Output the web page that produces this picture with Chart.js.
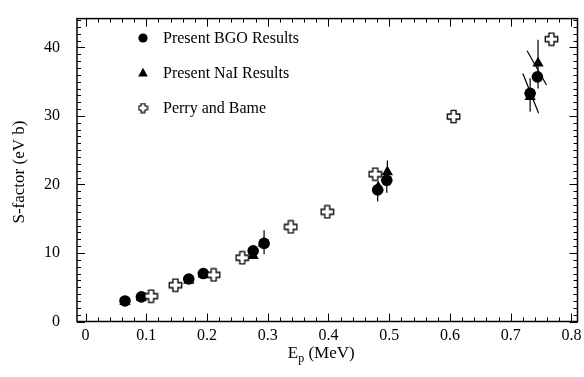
<!DOCTYPE html>
<html>
<head>
<meta charset="utf-8">
<title>S-factor</title>
<script src="https://cdn.jsdelivr.net/npm/chart.js@4.4.1/dist/chart.umd.min.js"></script>
<style>
  html, body { margin: 0; padding: 0; background: #fff; }
  #sfactor { display: block; }
</style>
</head>
<body>
<canvas id="sfactor" width="584" height="377"></canvas>
<script>
// S-factor (eV b) against proton energy E_p (MeV)

// Present BGO results
const bgoE = [0.065, 0.092, 0.170, 0.194, 0.276, 0.294, 0.481, 0.496, 0.732, 0.744];
const bgoS = [3.0, 3.6, 6.2, 7.0, 10.3, 11.4, 19.2, 20.6, 33.3, 35.7];
const bgoLo = [null, null, null, null, null, 9.8, 17.5, 18.8, 30.6, null];
const bgoHi = [null, null, null, null, null, 13.3, 20.4, 22.4, 35.5, null];

// Present NaI results
const naiE = [0.065, 0.092, 0.170, 0.194, 0.276, 0.293, 0.482, 0.497, 0.732, 0.745];
const naiS = [2.9, 3.5, 6.0, 6.9, 9.6, 11.4, 19.6, 21.8, 32.8, 37.7];
const naiLo = [null, null, null, null, null, null, null, 20.0, null, 34.0];
const naiHi = [null, null, null, null, null, null, null, 23.5, null, 41.1];

// slanted bars on the two highest-energy points (end points in MeV, eV b)
const slantE0 = [0.720, 0.727];
const slantS0 = [36.2, 39.5];
const slantE1 = [0.746, 0.759];
const slantS1 = [30.4, 34.5];

// Perry and Bame
const perryE = [0.108, 0.148, 0.211, 0.258, 0.338, 0.398, 0.477, 0.606, 0.767];
const perryS = [3.7, 5.3, 6.8, 9.3, 13.8, 16.0, 21.5, 29.9, 41.2];

// axes
const xTicks = [0, 0.1, 0.2, 0.3, 0.4, 0.5, 0.6, 0.7, 0.8];
const xTickLabels = ['0', '0.1', '0.2', '0.3', '0.4', '0.5', '0.6', '0.7', '0.8'];
const yTicks = [0, 10, 20, 30, 40];
const yTickLabels = ['0', '10', '20', '30', '40'];
const seriesNames = ['Present BGO Results', 'Present NaI Results', 'Perry and Bame'];

const SERIF = '"Liberation Serif", "DejaVu Serif", serif';
const X_MINOR = 0.02;
const Y_MINOR = 1;

function toPoints(xs, ys) {
	return xs.map((x, i) => ({x: x, y: ys[i]}));
}

// open plus sign, white inside, black edge
function plusMarker(size, arm, lw) {
	const c = document.createElement('canvas');
	c.width = size;
	c.height = size;
	const g = c.getContext('2d');
	const h = size / 2, a = arm / 2, e = h - lw;
	g.beginPath();
	g.moveTo(h - a, h - e);
	g.lineTo(h + a, h - e);
	g.lineTo(h + a, h - a);
	g.lineTo(h + e, h - a);
	g.lineTo(h + e, h + a);
	g.lineTo(h + a, h + a);
	g.lineTo(h + a, h + e);
	g.lineTo(h - a, h + e);
	g.lineTo(h - a, h + a);
	g.lineTo(h - e, h + a);
	g.lineTo(h - e, h - a);
	g.lineTo(h - a, h - a);
	g.closePath();
	g.fillStyle = '#fff';
	g.fill();
	g.lineWidth = lw;
	g.strokeStyle = '#000';
	g.stroke();
	return c;
}

const plusBig = plusMarker(15, 5, 1.3);
const plusSmall = plusMarker(11, 4, 1.2);

const framePlugin = {
	id: 'frame',
	beforeDatasetsDraw(chart) {
		const ctx = chart.ctx;
		const xs = chart.scales.x, ys = chart.scales.y;
		ctx.save();
		ctx.strokeStyle = '#000';
		ctx.lineWidth = 1.2;
		const vbar = (es, lo, hi) => {
			es.forEach((e, i) => {
				if (lo[i] == null) {return ;}
				const px = xs.getPixelForValue(e);
				ctx.beginPath();
				ctx.moveTo(px, ys.getPixelForValue(lo[i]));
				ctx.lineTo(px, ys.getPixelForValue(hi[i]));
				ctx.stroke();
			});
		};
		vbar(bgoE, bgoLo, bgoHi);
		vbar(naiE, naiLo, naiHi);
		slantE0.forEach((e, i) => {
			ctx.beginPath();
			ctx.moveTo(xs.getPixelForValue(e), ys.getPixelForValue(slantS0[i]));
			ctx.lineTo(xs.getPixelForValue(slantE1[i]), ys.getPixelForValue(slantS1[i]));
			ctx.stroke();
		});
		ctx.restore();
	},
	afterDraw(chart) {
		const ctx = chart.ctx;
		const a = chart.chartArea;
		const xs = chart.scales.x, ys = chart.scales.y;
		ctx.save();
		ctx.strokeStyle = '#000';

		// inward ticks on all four sides
		ctx.lineWidth = 1;
		const xtick = (v, len) => {
			const px = Math.round(xs.getPixelForValue(v)) + 0.5;
			ctx.beginPath();
			ctx.moveTo(px, a.bottom); ctx.lineTo(px, a.bottom - len);
			ctx.moveTo(px, a.top); ctx.lineTo(px, a.top + len);
			ctx.stroke();
		};
		const ytick = (v, len) => {
			const py = Math.round(ys.getPixelForValue(v)) + 0.5;
			ctx.beginPath();
			ctx.moveTo(a.left, py); ctx.lineTo(a.left + len, py);
			ctx.moveTo(a.right, py); ctx.lineTo(a.right - len, py);
			ctx.stroke();
		};
		for (let v = 0; v <= xs.max + 1e-9; v += X_MINOR) {xtick(v, 4);}
		for (let v = 0; v <= ys.max + 1e-9; v += Y_MINOR) {ytick(v, 4);}
		xTicks.forEach(v => xtick(v, 8));
		yTicks.forEach(v => ytick(v, 8));

		ctx.lineWidth = 1.5;
		ctx.strokeRect(a.left, a.top, a.right - a.left, a.bottom - a.top);

		// axis titles
		ctx.fillStyle = '#000';
		ctx.font = '17px ' + SERIF;
		ctx.textBaseline = 'alphabetic';
		const cx = (a.left + a.right) / 2;
		const w1 = ctx.measureText('E').width;
		const w3 = ctx.measureText(' (MeV)').width;
		ctx.font = '12px ' + SERIF;
		const w2 = ctx.measureText('p').width;
		let tx = cx - (w1 + w2 + w3) / 2 - 6;
		const base = 358;
		ctx.font = '17px ' + SERIF;
		ctx.textAlign = 'left';
		ctx.fillText('E', tx, base);
		ctx.font = '12px ' + SERIF;
		ctx.fillText('p', tx + w1, base + 4);
		ctx.font = '17px ' + SERIF;
		ctx.fillText(' (MeV)', tx + w1 + w2, base);

		ctx.save();
		ctx.translate(24, (a.top + a.bottom) / 2 + 2);
		ctx.rotate(-Math.PI / 2);
		ctx.textAlign = 'center';
		ctx.fillText('S-factor (eV b)', 0, 0);
		ctx.restore();

		// legend
		const lx = 143, ly = [38, 73, 108];
		ctx.font = '16px ' + SERIF;
		ctx.textAlign = 'left';
		ctx.textBaseline = 'middle';
		ctx.beginPath();
		ctx.arc(lx, ly[0], 4.6, 0, Math.PI * 2);
		ctx.fill();
		ctx.beginPath();
		ctx.moveTo(lx, ly[1] - 5.2);
		ctx.lineTo(lx + 4.8, ly[1] + 3.4);
		ctx.lineTo(lx - 4.8, ly[1] + 3.4);
		ctx.closePath();
		ctx.fill();
		ctx.drawImage(plusSmall, lx - plusSmall.width / 2, ly[2] - plusSmall.height / 2);
		seriesNames.forEach((s, i) => ctx.fillText(s, 163, ly[i] + 1));
		ctx.restore();
	}
};

new Chart(document.getElementById('sfactor'), {
	type: 'scatter',
	data: {
		datasets: [{
			label: seriesNames[2],
			data: toPoints(perryE, perryS),
			pointStyle: plusBig,
			order: 0
		}, {
			label: seriesNames[0],
			data: toPoints(bgoE, bgoS),
			pointStyle: 'circle',
			pointRadius: 5.8,
			backgroundColor: '#000',
			borderColor: '#000',
			borderWidth: 0,
			order: 1
		}, {
			label: seriesNames[1],
			data: toPoints(naiE, naiS),
			pointStyle: 'triangle',
			pointRadius: 6.5,
			backgroundColor: '#000',
			borderColor: '#000',
			borderWidth: 0,
			order: 2
		}]
	},
	options: {
		responsive: false,
		animation: false,
		devicePixelRatio: 1,
		layout: {padding: {top: 10, right: 6, left: 0, bottom: 0}},
		plugins: {
			legend: {display: false},
			tooltip: {enabled: false}
		},
		scales: {
			x: {
				type: 'linear',
				min: -0.014,
				max: 0.81,
				grid: {display: false},
				border: {display: false},
				afterFit: (scale) => {scale.height = 55.5;},
				afterBuildTicks: (scale) => {scale.ticks = xTicks.map(v => ({value: v}));},
				ticks: {
					padding: -3,
					color: '#000',
					font: {family: SERIF, size: 16},
					maxRotation: 0,
					callback: (v) => xTickLabels[xTicks.indexOf(v)]
				}
			},
			y: {
				type: 'linear',
				min: 0,
				max: 44.2,
				grid: {display: false},
				border: {display: false},
				afterFit: (scale) => {scale.width = 77;},
				afterBuildTicks: (scale) => {scale.ticks = yTicks.map(v => ({value: v}));},
				ticks: {
					padding: 9,
					color: '#000',
					font: {family: SERIF, size: 16},
					callback: (v) => yTickLabels[yTicks.indexOf(v)]
				}
			}
		}
	},
	plugins: [framePlugin]
});
</script>
</body>
</html>
